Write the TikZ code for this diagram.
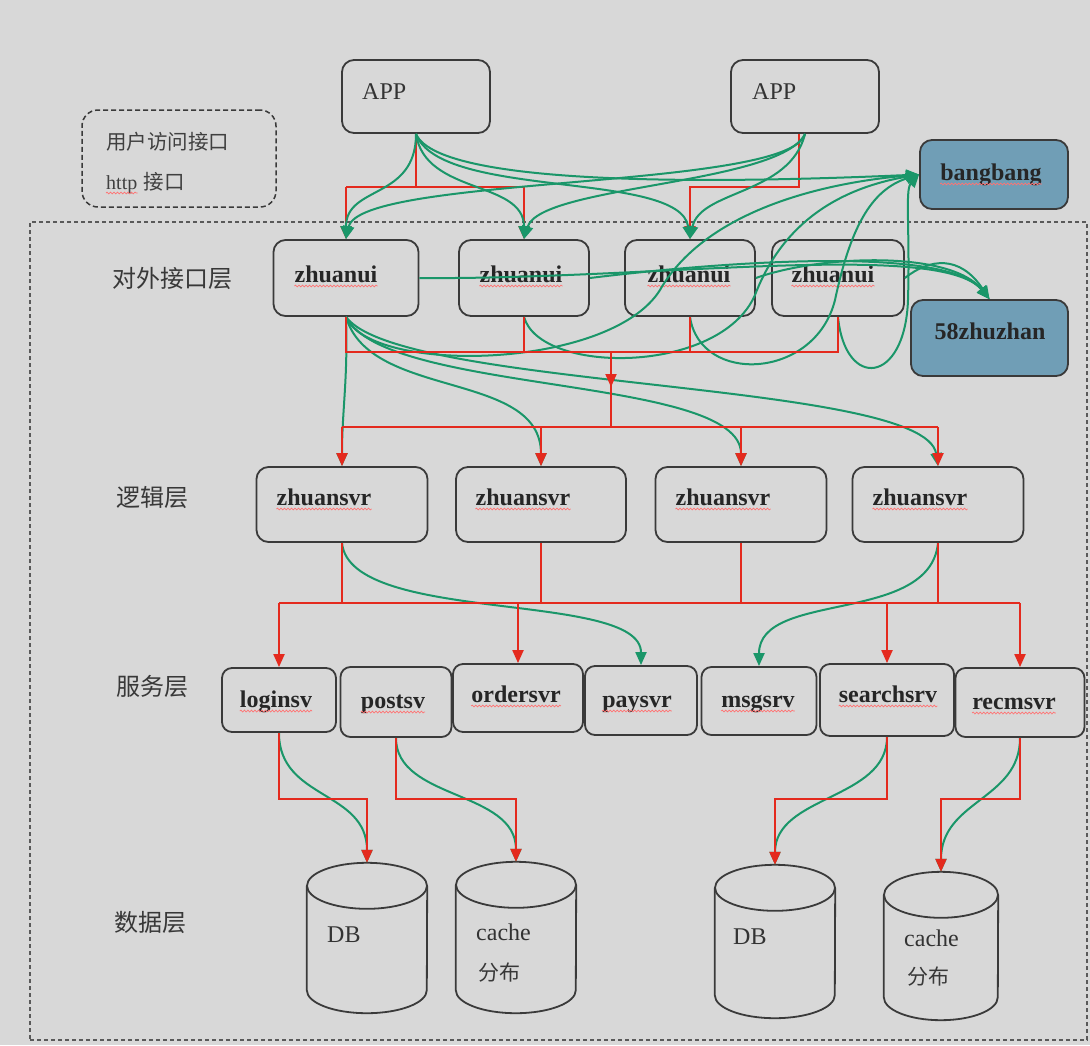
\documentclass[tikz,border=0pt]{standalone}
\usepackage{fontspec}
\setmainfont{Liberation Serif}
\newfontfamily\cjk{Noto Sans CJK SC}
\usetikzlibrary{arrows.meta,decorations.pathmorphing}
\definecolor{bg}{RGB}{216,216,216}
\definecolor{boxline}{RGB}{58,58,58}
\definecolor{redl}{RGB}{228,42,30}
\definecolor{greenl}{RGB}{26,150,105}
\definecolor{bluefill}{RGB}{112,158,182}
\newcommand\wavy[1]{\draw[squiggle] ([yshift=-4pt]#1.base west) -- ([yshift=-4pt]#1.base east);}
\newcommand\cyl[6]{% name, cx, top, bottom, rx, ry
  \node[inner sep=0pt, minimum width=2*#5 pt, minimum height=#4pt-#3pt] (#1) at (#2,{(#3+#4)/2}) {};
  \draw[cylline] ([yshift=-#6pt]#1.north) ellipse [x radius=#5pt, y radius=#6pt];
  \draw[cylline] ([yshift=-#6pt]#1.north west) -- ([yshift=#6pt]#1.south west)
     arc[start angle=180, end angle=360, x radius=#5pt, y radius=#6pt] -- ([yshift=-#6pt]#1.north east);
}
\begin{document}
\begin{tikzpicture}[x=1pt,y=-1pt,
  box/.style={draw=boxline, line width=1.8pt, rounded corners=12pt, inner sep=0pt},
  sbox/.style={box, rounded corners=10pt},
  bluebox/.style={box, fill=bluefill},
  lbl/.style={inner sep=0pt, anchor=base, font=\fontsize{24}{28}\selectfont\bfseries, text=black!85},
  lblr/.style={inner sep=0pt, anchor=base west, font=\fontsize{24}{28}\selectfont, text=black!80},
  layer/.style={inner sep=0pt, font=\cjk\fontsize{24}{28}\selectfont, text=black!78},
  cylline/.style={draw=boxline, line width=1.8pt},
  frame/.style={draw=black!65, line width=1.3pt, dash pattern=on 4pt off 3pt},
  rl/.style={draw=redl, line width=2pt},
  ra/.style={rl, -{Triangle[length=13pt,width=11pt]}},
  gl/.style={draw=greenl, line width=2pt},
  ga/.style={gl, -{Triangle[length=13pt,width=11pt]}},
  squiggle/.style={draw=red!55, line width=0.7pt, decorate, decoration={snake, amplitude=0.9pt, segment length=3.5pt}},
]
\useasboundingbox (0,0) rectangle (1090,1045);
\fill[bg] (0,0) rectangle (1090,1045);

% frame
\node[frame, inner sep=0pt, minimum width=1057pt, minimum height=818pt] (frame) at (558.5,631) {};

% top
\node[box, minimum width=148pt, minimum height=73pt] (app1) at (416,96.5) {};
\node[lblr] (app1t) at (362,99) {APP};
\node[box, minimum width=148pt, minimum height=73pt] (app2) at (805,96.5) {};
\node[lblr] (app2t) at (752,99) {APP};

\node[draw=boxline, line width=1.5pt, dash pattern=on 5pt off 3pt, rounded corners=16pt, minimum width=194pt, minimum height=97pt] (note) at (179,158.5) {};
\node[inner sep=0pt, anchor=base west, font=\cjk\fontsize{20.5}{22}\selectfont, text=black!75] (n1) at (106,149) {用户访问接口};
\node[inner sep=0pt, anchor=base west, font=\fontsize{20}{22}\selectfont, text=black!75] (n2a) at (106,189) {http};
\node[inner sep=0pt, anchor=base west, font=\cjk\fontsize{20.5}{22}\selectfont, text=black!75] (n2b) at ([xshift=6pt]n2a.base east) {接口};
\wavy{n2a}

\node[bluebox, minimum width=148pt, minimum height=69pt] (bang) at (994,174.5) {};
\node[lbl] (bangt) at (991,180) {bangbang};
\wavy{bangt}
\node[bluebox, minimum width=157pt, minimum height=76pt] (zz) at (989.5,338) {};
\node[lbl] (zzt) at (990,339) {58zhuzhan};

% layer labels
\node[layer] (L1) at (172.5,278) {对外接口层};
\node[layer] (L2) at (152.5,497) {逻辑层};
\node[layer] (L3) at (152.5,686) {服务层};
\node[layer] (L4) at (150,922) {数据层};

% zhuanui
\node[box, minimum width=145pt, minimum height=76pt] (z1) at (346,278) {};
\node[box, minimum width=130pt, minimum height=76pt] (z2) at (524,278) {};
\node[box, minimum width=130pt, minimum height=76pt] (z3) at (690,278) {};
\node[box, minimum width=132pt, minimum height=76pt] (z4) at (838,278) {};
\node[lbl] (z1t) at (336,282) {zhuanui}; \wavy{z1t}
\node[lbl] (z2t) at (521,282) {zhuanui}; \wavy{z2t}
\node[lbl] (z3t) at (689,282) {zhuanui}; \wavy{z3t}
\node[lbl] (z4t) at (833,282) {zhuanui}; \wavy{z4t}

% zhuansvr
\node[box, minimum width=171pt, minimum height=75pt] (s1) at (342,504.5) {};
\node[box, minimum width=170pt, minimum height=75pt] (s2) at (541,504.5) {};
\node[box, minimum width=171pt, minimum height=75pt] (s3) at (741,504.5) {};
\node[box, minimum width=171pt, minimum height=75pt] (s4) at (938,504.5) {};
\node[lbl] (s1t) at (324,505) {zhuansvr}; \wavy{s1t}
\node[lbl] (s2t) at (523,505) {zhuansvr}; \wavy{s2t}
\node[lbl] (s3t) at (723,505) {zhuansvr}; \wavy{s3t}
\node[lbl] (s4t) at (920,505) {zhuansvr}; \wavy{s4t}

% services
\node[sbox, minimum width=114pt, minimum height=64pt] (login) at (279,700) {};
\node[sbox, minimum width=111pt, minimum height=70pt] (post) at (396,702) {};
\node[sbox, minimum width=130pt, minimum height=68pt] (order) at (518,698) {};
\node[sbox, minimum width=112pt, minimum height=69pt] (pay) at (641,700.5) {};
\node[sbox, minimum width=115pt, minimum height=68pt] (msg) at (759,701) {};
\node[sbox, minimum width=134pt, minimum height=72pt] (search) at (887,700) {};
\node[sbox, minimum width=129pt, minimum height=69pt] (recm) at (1020,702.5) {};
\node[lbl] (logint) at (276,707) {loginsv}; \wavy{logint}
\node[lbl] (postt) at (393,708) {postsv}; \wavy{postt}
\node[lbl] (ordert) at (516,702) {ordersvr}; \wavy{ordert}
\node[lbl] (payt) at (637,707) {paysvr}; \wavy{payt}
\node[lbl] (msgt) at (758,707) {msgsrv}; \wavy{msgt}
\node[lbl] (searcht) at (888,702) {searchsrv}; \wavy{searcht}
\node[lbl] (recmt) at (1014,709) {recmsvr}; \wavy{recmt}

% data
\cyl{db1}{367}{863}{1013}{60}{23}
\cyl{cache1}{516}{862}{1013}{60}{23}
\cyl{db2}{775}{865}{1018}{60}{23}
\cyl{cache2}{941}{872}{1020}{57}{23}
\node[lblr] (db1t) at (327,942) {DB};
\node[lblr] (c1t) at (476,940) {cache};
\node[inner sep=0pt, anchor=base west, font=\cjk\fontsize{21}{24}\selectfont, text=black!78] (c1f) at (478,980) {分布};
\node[lblr] (db2t) at (733,944) {DB};
\node[lblr] (c2t) at (904,946) {cache};
\node[inner sep=0pt, anchor=base west, font=\cjk\fontsize{21}{24}\selectfont, text=black!78] (c2f) at (907,984) {分布};

% bus coordinates
\coordinate (busA) at (0,187);
\coordinate (busB) at (0,352);
\coordinate (midB) at (611,352);
\coordinate (busC) at (0,427);
\coordinate (busD) at (0,603);
\coordinate (busE) at (0,799);

% ---- red connectors (top) ----
\draw[rl] (app1.south) -- (app1.south |- busA);
\draw[rl] (z1.north |- busA) -- (z2.north |- busA);
\draw[ra] (z1.north |- busA) -- (z1.north);
\draw[ra] (z2.north |- busA) -- (z2.north);
\draw[ra] ([xshift=-6pt]app2.south) -- ([xshift=-6pt]app2.south |- busA) -- (z3.north |- busA) -- (z3.north);

% ---- green: APPs ----
\draw[ga] (app1.south) .. controls (416,200) and (346,185) .. (z1.north);
\draw[ga] (app1.south) .. controls (425,195) and (524,180) .. (z2.north);
\draw[ga] (app1.south) .. controls (440,200) and (680,170) .. (z3.north);
\draw[ga] (app1.south) .. controls (440,190) and (750,182) .. (bang.west);
\draw[ga] (app2.south) .. controls (790,190) and (360,175) .. (z1.north);
\draw[ga] (app2.south) .. controls (780,185) and (540,185) .. (z2.north);
\draw[ga] (app2.south) .. controls (790,195) and (700,190) .. (z3.north);

% ---- green: zhuanui to bangbang / 58zhuzhan ----
\draw[ga] (z1.south) .. controls (370,375) and (610,370) .. (660,290) .. controls (700,220) and (800,185) .. (bang.west);
\draw[ga] (z2.south) .. controls (540,375) and (720,375) .. (755,295) .. controls (780,230) and (830,190) .. (bang.west);
\draw[ga] (z3.south) .. controls (700,385) and (815,380) .. (835,300) .. controls (850,230) and (870,190) .. (bang.west);
\draw[ga] (z4.south) .. controls (845,390) and (905,385) .. (908,300) .. controls (910,230) and (905,190) .. (bang.west);
\draw[ga] (z1.east) .. controls (650,280) and (940,240) .. (zz.north);
\draw[ga] (z2.east) .. controls (720,262) and (945,245) .. (zz.north);
\draw[ga] (z3.east) .. controls (820,255) and (950,250) .. (zz.north);
\draw[ga] (z4.east) .. controls (930,258) and (960,255) .. (zz.north);

% ---- green: zhuanui to zhuansvr ----
\draw[ga] (z1.south) .. controls (348,380) and (342,410) .. (s1.north);
\draw[ga] (z1.south) .. controls (370,400) and (541,370) .. (s2.north);
\draw[ga] (z1.south) .. controls (385,395) and (741,375) .. (s3.north);
\draw[ga] (z1.south) .. controls (400,390) and (925,380) .. (s4.north);

% ---- red: zhuanui to zhuansvr ----
\draw[rl] (z1.south) -- (z1.south |- busB) -- (z4.south |- busB) -- (z4.south);
\draw[rl] (z2.south) -- (z2.south |- busB);
\draw[rl] (z3.south) -- (z3.south |- busB);
\draw[rl] (midB) -- (midB |- busC);
\draw[ra] (midB) -- ++(0,35);
\draw[rl] (s1.north |- busC) -- (s4.north |- busC);
\draw[ra] (s1.north |- busC) -- (s1.north);
\draw[ra] (s2.north |- busC) -- (s2.north);
\draw[ra] (s3.north |- busC) -- (s3.north);
\draw[ra] (s4.north |- busC) -- (s4.north);

% ---- green: zhuansvr to services ----
\draw[ga] (s1.south) .. controls (350,625) and (641,590) .. (pay.north);
\draw[ga] (s4.south) .. controls (930,625) and (759,590) .. (msg.north);

% ---- red: zhuansvr to services ----
\draw[rl] (s1.south) -- (s1.south |- busD);
\draw[rl] (s2.south) -- (s2.south |- busD);
\draw[rl] (s3.south) -- (s3.south |- busD);
\draw[rl] (s4.south) -- (s4.south |- busD);
\draw[rl] (login.north |- busD) -- (recm.north |- busD);
\draw[ra] (login.north |- busD) -- (login.north);
\draw[ra] (order.north |- busD) -- (order.north);
\draw[ra] (search.north |- busD) -- (search.north);
\draw[ra] (recm.north |- busD) -- (recm.north);

% ---- green: services to data ----
\draw[ga] (login.south) .. controls (279,800) and (367,790) .. (db1.north);
\draw[ga] (post.south) .. controls (396,800) and (516,790) .. (cache1.north);
\draw[ga] (search.south) .. controls (887,800) and (775,795) .. (db2.north);
\draw[ga] (recm.south) .. controls (1020,800) and (941,800) .. (cache2.north);

% ---- red: services to data ----
\draw[ra] (login.south) -- (login.south |- busE) -- (db1.north |- busE) -- (db1.north);
\draw[ra] (post.south) -- (post.south |- busE) -- (cache1.north |- busE) -- (cache1.north);
\draw[ra] (search.south) -- (search.south |- busE) -- (db2.north |- busE) -- (db2.north);
\draw[ra] (recm.south) -- (recm.south |- busE) -- (cache2.north |- busE) -- (cache2.north);
\end{tikzpicture}
\end{document}
